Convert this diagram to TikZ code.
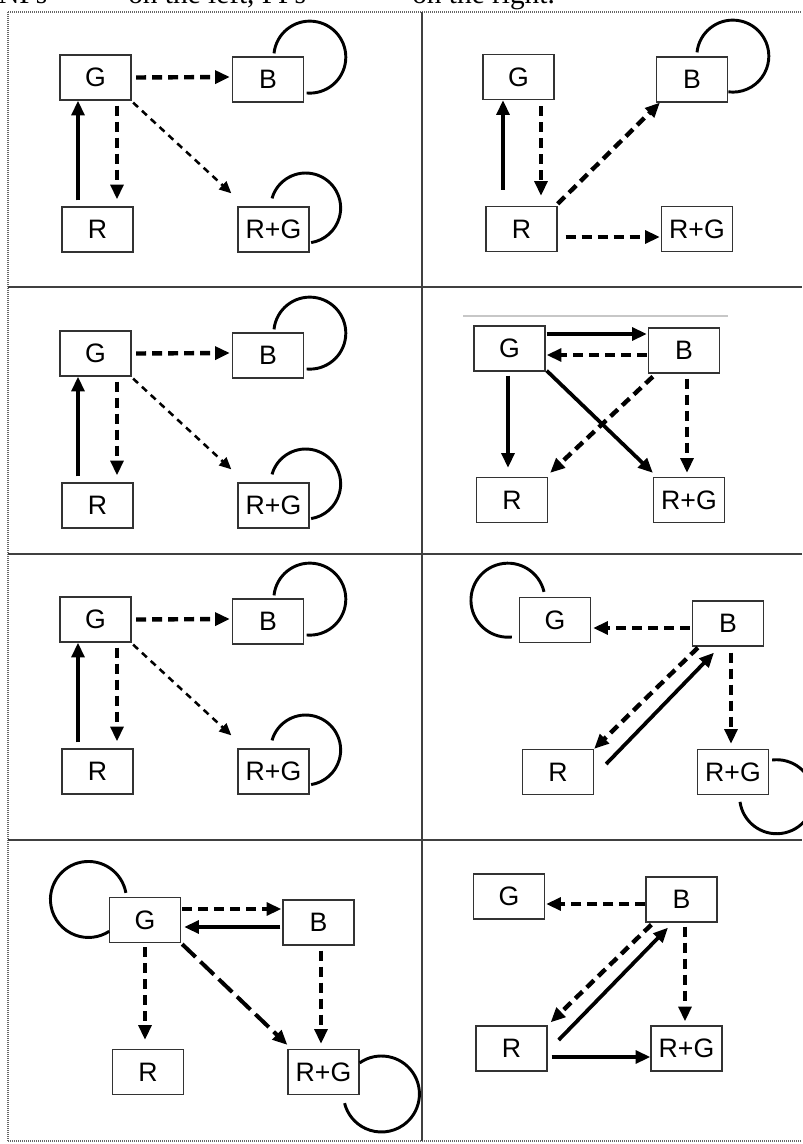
\documentclass[tikz,border=0pt]{standalone}
\usepackage{fontspec}
\setmainfont{Liberation Serif}
\newfontfamily\arialf{Liberation Sans}
\usetikzlibrary{arrows.meta,calc}

\newcommand\lpanel[2]{%
 \node[box] (G#2) at (95.5,{77.5+#1}) {G};
 \node[box] (B#2) at (268,{79.5+#1}) {B};
 \node[box] (R#2) at (97.5,{229.5+#1}) {R};
 \node[box] (Q#2) at (273.5,{229.5+#1}) {R+G};
 \draw[solidarr] ($(R#2.north)+(-19.5,-6)$) -- ($(G#2.south)+(-17.5,0)$);
 \draw[dasharr] ($(G#2.south)+(21.5,5)$) -- ($(R#2.north)+(19.5,-7)$);
 \draw[dasharr] ($(G#2.east)+(4.5,0)$) -- ($(B#2.west)+(-2,-2.5)$);
 \draw[thindash] ($(G#2.south east)+(1.5,2)$) -- ($(Q#2.north west)+(-6,-13)$);
 \draw[selfloop] ($(B#2.north)+(6,-3)$) arc[start angle=-174,end angle=95,radius=36];
 \draw[selfloop] ($(Q#2.north)+(-1.5,-8)$) arc[start angle=-164,end angle=81,radius=35];
}

\begin{document}
\begin{tikzpicture}[x=0.75pt,y=-0.75pt,
 box/.style={draw=black!80,line width=0.95pt,fill=white,minimum width=53.25pt,minimum height=33.75pt,inner sep=0pt,font=\arialf\fontsize{20}{22}\selectfont},
 tip/.style={-{Triangle[length=11pt,width=9.5pt]}},
 solidarr/.style={tip,line width=2.8pt},
 dasharr/.style={tip,line width=3.3pt,dash pattern=on 7.5pt off 4.5pt},
 thindash/.style={-{Triangle[length=9pt,width=8pt]},line width=1.9pt,dash pattern=on 5pt off 4pt},
 longdash/.style={tip,line width=3pt,dash pattern=on 14pt off 5pt},
 selfloop/.style={line width=2.2pt},
 grid/.style={draw=black!75,line width=1pt},
 border/.style={draw=black!60,line width=1pt,dash pattern=on 0.75pt off 0.75pt},
 toptext/.style={anchor=base west,inner sep=0pt,font=\fontsize{22}{24}\selectfont},
 ]
\useasboundingbox (0,0) rectangle (802,1144);

% title (cut off at the top, as in the reference)
\node[toptext] (t1) at (-2,4) {NPs};
\node[toptext] (t2) at (128,4) {on the left, PPs};
\node[toptext] (t3) at (412,4) {on the right.};

% table
\draw[border] (8,12) -- (802,12);
\draw[border] (8,12) -- (8,1141);
\draw[border] (8,1141) -- (802,1141);
\draw[grid] (422,12) -- (422,1141);
\draw[grid] (8,287) -- (802,287);
\draw[grid] (8,554) -- (802,554);
\draw[grid] (8,840) -- (802,840);

% left panels, rows 1-3
\lpanel{0}{1}
\lpanel{276}{3}
\lpanel{542}{5}

% panel 2 (row 1 right)
\node[box] (G2) at (518.5,77) {G};
\node[box] (B2) at (692,79.5) {B};
\node[box] (R2) at (521.5,229) {R};
\node[box] (Q2) at (697,229) {R+G};
\draw[solidarr] ($(R2.north)+(-18.5,-16)$) -- ($(G2.south)+(-15.5,0)$);
\draw[dasharr] ($(G2.south)+(22.5,6)$) -- ($(R2.north)+(19.5,-10)$);
\draw[dasharr] ($(R2.north east)+(0,-2)$) -- ($(B2.south west)+(4,0)$);
\draw[dasharr] ($(R2.east)+(8,8)$) -- ($(Q2.west)+(-1,8)$);
\draw[selfloop] ($(B2.north)+(5,-4)$) arc[start angle=-174,end angle=97,radius=36];

% panel 4 (row 2 right)
\draw[draw=black!22,line width=1.1pt] (463,316) -- (728,316);
\node[box] (G4) at (509.5,348.5) {G};
\node[box] (B4) at (684,350.5) {B};
\node[box] (R4) at (512,500) {R};
\node[box] (Q4) at (689,500) {R+G};
\draw[solidarr] ($(G4.east)+(1,-14.5)$) -- ($(B4.west)+(-1,-16.5)$);
\draw[dasharr] ($(B4.west)+(-1,4.5)$) -- ($(G4.east)+(1,6.5)$);
\draw[solidarr] ($(G4.south)+(-1.5,4)$) -- ($(R4.north)+(-4,-9)$);
\draw[dasharr] ($(B4.south west)+(5,3)$) -- ($(R4.north east)+(2,-4)$);
\draw[solidarr] ($(G4.south east)+(1,-1)$) -- ($(Q4.north west)+(0,-4)$);
\draw[dasharr] ($(B4.south)+(3,5)$) -- ($(Q4.north)+(-2,-4)$);

% panel 6 (row 3 right)
\node[box] (G6) at (555,620) {G};
\node[box] (B6) at (728,623.5) {B};
\node[box] (R6) at (558,772) {R};
\node[box] (Q6) at (733,772) {R+G};
\draw[dasharr] ($(B6.west)+(-2,4.5)$) -- ($(G6.east)+(2,8)$);
\draw[dasharr] ($(B6.south)+(3,6)$) -- ($(Q6.north)+(-2,-5)$);
\draw[dasharr] ($(B6.south west)+(6,1)$) -- ($(R6.north east)+(0,0)$);
\draw[solidarr] ($(R6.east)+(12,-8)$) -- ($(B6.south)+(-14,6)$);
\draw[selfloop] ($(G6.north)+(-11,-5)$) arc[start angle=-13,end angle=-276,radius=37];
\draw[selfloop] ($(Q6.east)+(3,-12)$) arc[start angle=-97,end angle=172,radius=37];

% panel 7 (row 4 left)
\node[box] (G7) at (145,920) {G};
\node[box] (B7) at (318.5,922.5) {B};
\node[box] (R7) at (148,1072) {R};
\node[box] (Q7) at (323.5,1072) {R+G};
\draw[dasharr] ($(G7.east)+(1,-11)$) -- ($(B7.west)+(-1,-13.5)$);
\draw[solidarr] ($(B7.west)+(-2,4.5)$) -- ($(G7.east)+(3,7)$);
\draw[dasharr] ($(G7.south)+(0,4)$) -- ($(R7.north)+(-3,-9)$);
\draw[dasharr] ($(B7.south)+(2.5,5)$) -- ($(Q7.north)+(-2.5,-5)$);
\draw[longdash] ($(G7.south east)+(1,1)$) -- ($(Q7.north west)+(0,-4)$);
\draw[selfloop] ($(G7.north west)+(17,-4)$) arc[start angle=-10,end angle=-303,radius=38];
\draw[selfloop] ($(Q7.north east)+(0,14)$) arc[start angle=-125,end angle=166,radius=38];

% panel 8 (row 4 right)
\node[box] (G8) at (509,896.5) {G};
\node[box] (B8) at (681.5,899.5) {B};
\node[box] (R8) at (511.5,1048.5) {R};
\node[box] (Q8) at (686.5,1048.5) {R+G};
\draw[dasharr] ($(B8.west)+(0,4.5)$) -- ($(G8.east)+(1,7.5)$);
\draw[dasharr] ($(B8.south)+(3.5,4)$) -- ($(Q8.north)+(-1.5,-4)$);
\draw[dasharr] ($(B8.south west)+(6,2)$) -- ($(R8.north east)+(3,-3)$);
\draw[solidarr] ($(R8.east)+(11,-8.5)$) -- ($(B8.south)+(-13.5,5)$);
\draw[solidarr] ($(R8.east)+(4,8.5)$) -- ($(Q8.west)+(0,8.5)$);
\end{tikzpicture}
\end{document}
